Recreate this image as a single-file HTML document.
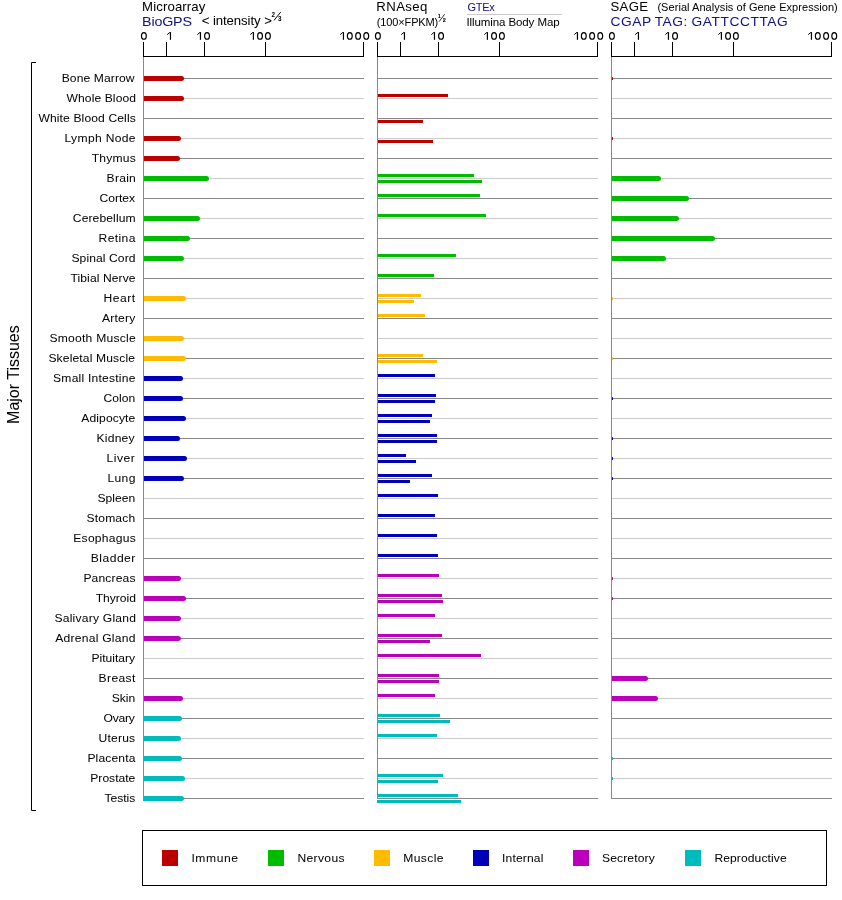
<!DOCTYPE html><html><head><meta charset="utf-8"><style>html,body{margin:0;padding:0;background:#fff;overflow:hidden;}svg{display:block;}#w{transform:translateZ(0);width:842px;height:900px;}text{font-family:"Liberation Sans", sans-serif;stroke:currentColor;stroke-width:0.02px;}</style></head><body>
<div id="w">
<svg width="842" height="900" viewBox="0 0 842 900">
<rect x="169.85" y="32.1" width="1.2" height="7.7" fill="#000"/>
<line x1="167.20" y1="34.6" x2="169.95" y2="32.4" stroke="#000" stroke-width="1"/>
<rect x="199.86" y="32.1" width="1.2" height="7.7" fill="#000"/>
<line x1="197.40" y1="34.6" x2="199.96" y2="32.4" stroke="#000" stroke-width="1"/>
<rect x="252.80" y="32.1" width="1.2" height="7.7" fill="#000"/>
<line x1="250.30" y1="34.6" x2="252.90" y2="32.4" stroke="#000" stroke-width="1"/>
<rect x="342.85" y="32.1" width="1.2" height="7.7" fill="#000"/>
<line x1="340.20" y1="34.6" x2="342.95" y2="32.4" stroke="#000" stroke-width="1"/>
<ellipse cx="143.90" cy="35.93" rx="2.43" ry="3.33" fill="none" stroke="#000" stroke-width="1.15"/>
<ellipse cx="207.05" cy="35.93" rx="2.43" ry="3.33" fill="none" stroke="#000" stroke-width="1.15"/>
<ellipse cx="260.05" cy="35.93" rx="2.43" ry="3.33" fill="none" stroke="#000" stroke-width="1.15"/>
<ellipse cx="267.90" cy="35.93" rx="2.43" ry="3.33" fill="none" stroke="#000" stroke-width="1.15"/>
<ellipse cx="349.80" cy="35.93" rx="2.43" ry="3.33" fill="none" stroke="#000" stroke-width="1.15"/>
<ellipse cx="358.10" cy="35.93" rx="2.43" ry="3.33" fill="none" stroke="#000" stroke-width="1.15"/>
<ellipse cx="366.25" cy="35.93" rx="2.43" ry="3.33" fill="none" stroke="#000" stroke-width="1.15"/>
<rect x="403.85" y="32.1" width="1.2" height="7.7" fill="#000"/>
<line x1="401.20" y1="34.6" x2="403.95" y2="32.4" stroke="#000" stroke-width="1"/>
<rect x="433.86" y="32.1" width="1.2" height="7.7" fill="#000"/>
<line x1="431.40" y1="34.6" x2="433.96" y2="32.4" stroke="#000" stroke-width="1"/>
<rect x="486.80" y="32.1" width="1.2" height="7.7" fill="#000"/>
<line x1="484.30" y1="34.6" x2="486.90" y2="32.4" stroke="#000" stroke-width="1"/>
<rect x="576.85" y="32.1" width="1.2" height="7.7" fill="#000"/>
<line x1="574.20" y1="34.6" x2="576.95" y2="32.4" stroke="#000" stroke-width="1"/>
<ellipse cx="377.90" cy="35.93" rx="2.43" ry="3.33" fill="none" stroke="#000" stroke-width="1.15"/>
<ellipse cx="441.05" cy="35.93" rx="2.43" ry="3.33" fill="none" stroke="#000" stroke-width="1.15"/>
<ellipse cx="494.05" cy="35.93" rx="2.43" ry="3.33" fill="none" stroke="#000" stroke-width="1.15"/>
<ellipse cx="501.90" cy="35.93" rx="2.43" ry="3.33" fill="none" stroke="#000" stroke-width="1.15"/>
<ellipse cx="583.80" cy="35.93" rx="2.43" ry="3.33" fill="none" stroke="#000" stroke-width="1.15"/>
<ellipse cx="592.10" cy="35.93" rx="2.43" ry="3.33" fill="none" stroke="#000" stroke-width="1.15"/>
<ellipse cx="600.25" cy="35.93" rx="2.43" ry="3.33" fill="none" stroke="#000" stroke-width="1.15"/>
<rect x="637.85" y="32.1" width="1.2" height="7.7" fill="#000"/>
<line x1="635.20" y1="34.6" x2="637.95" y2="32.4" stroke="#000" stroke-width="1"/>
<rect x="667.86" y="32.1" width="1.2" height="7.7" fill="#000"/>
<line x1="665.40" y1="34.6" x2="667.96" y2="32.4" stroke="#000" stroke-width="1"/>
<rect x="720.80" y="32.1" width="1.2" height="7.7" fill="#000"/>
<line x1="718.30" y1="34.6" x2="720.90" y2="32.4" stroke="#000" stroke-width="1"/>
<rect x="810.85" y="32.1" width="1.2" height="7.7" fill="#000"/>
<line x1="808.20" y1="34.6" x2="810.95" y2="32.4" stroke="#000" stroke-width="1"/>
<ellipse cx="611.90" cy="35.93" rx="2.43" ry="3.33" fill="none" stroke="#000" stroke-width="1.15"/>
<ellipse cx="675.05" cy="35.93" rx="2.43" ry="3.33" fill="none" stroke="#000" stroke-width="1.15"/>
<ellipse cx="728.05" cy="35.93" rx="2.43" ry="3.33" fill="none" stroke="#000" stroke-width="1.15"/>
<ellipse cx="735.90" cy="35.93" rx="2.43" ry="3.33" fill="none" stroke="#000" stroke-width="1.15"/>
<ellipse cx="817.80" cy="35.93" rx="2.43" ry="3.33" fill="none" stroke="#000" stroke-width="1.15"/>
<ellipse cx="826.10" cy="35.93" rx="2.43" ry="3.33" fill="none" stroke="#000" stroke-width="1.15"/>
<ellipse cx="834.25" cy="35.93" rx="2.43" ry="3.33" fill="none" stroke="#000" stroke-width="1.15"/>
<text transform="translate(142.10 10.8) scale(1.100 1)" font-size="12" fill="#000" style="color:#000" letter-spacing="0.101">Microarray</text>
<text transform="translate(142.10 25.8) scale(1.100 1)" font-size="13" fill="#111188" style="color:#111188" letter-spacing="-0.182">BioGPS</text>
<text transform="translate(201.70 24.9) scale(1.100 1)" font-size="12" fill="#000" style="color:#000" letter-spacing="-0.076">&lt; intensity &gt;</text>
<text transform="translate(376.30 10.7) scale(1.100 1)" font-size="12" fill="#000" style="color:#000" letter-spacing="0.364">RNAseq</text>
<text x="376.80" y="25.9" font-size="11" fill="#000" letter-spacing="-0.137">(100×FPKM)</text>
<text x="467.40" y="11" font-size="11" fill="#111188" letter-spacing="-0.242">GTEx</text>
<text transform="translate(466.40 25.65) scale(1.050 1)" font-size="11" fill="#000" style="color:#000" letter-spacing="-0.101">Illumina Body Map</text>
<text transform="translate(610.40 11) scale(1.100 1)" font-size="12" fill="#000" style="color:#000" letter-spacing="0.303">SAGE</text>
<text transform="translate(657.40 11) scale(1.100 1)" font-size="10" fill="#000" style="color:#000" letter-spacing="0.052">(Serial Analysis of Gene Expression)</text>
<text transform="translate(610.40 25.8) scale(1.100 1)" font-size="12.5" fill="#111188" style="color:#111188" letter-spacing="0.526" word-spacing="-0.8">CGAP TAG: GATTCCTTAG</text>
<text transform="translate(61.70 81.5) scale(1.100 1)" font-size="11" fill="#000" style="color:#000" letter-spacing="0.091">Bone Marrow</text>
<text transform="translate(66.50 101.5) scale(1.100 1)" font-size="11" fill="#000" style="color:#000" letter-spacing="0.091">Whole Blood</text>
<text transform="translate(38.40 121.5) scale(1.100 1)" font-size="11" fill="#000" style="color:#000" letter-spacing="0.114">White Blood Cells</text>
<text transform="translate(64.50 141.5) scale(1.100 1)" font-size="11" fill="#000" style="color:#000" letter-spacing="0.303">Lymph Node</text>
<text transform="translate(91.70 161.5) scale(1.100 1)" font-size="11" fill="#000" style="color:#000" letter-spacing="0.182">Thymus</text>
<text transform="translate(106.60 181.5) scale(1.100 1)" font-size="11" fill="#000" style="color:#000" letter-spacing="0.227">Brain</text>
<text transform="translate(99.50 201.5) scale(1.100 1)" font-size="11" fill="#000" style="color:#000" letter-spacing="0.000">Cortex</text>
<text transform="translate(72.80 221.5) scale(1.100 1)" font-size="11" fill="#000" style="color:#000" letter-spacing="0.101">Cerebellum</text>
<text transform="translate(98.50 241.5) scale(1.100 1)" font-size="11" fill="#000" style="color:#000" letter-spacing="0.364">Retina</text>
<text transform="translate(71.40 261.5) scale(1.100 1)" font-size="11" fill="#000" style="color:#000" letter-spacing="0.091">Spinal Cord</text>
<text transform="translate(70.50 281.5) scale(1.100 1)" font-size="11" fill="#000" style="color:#000" letter-spacing="0.083">Tibial Nerve</text>
<text transform="translate(103.50 301.5) scale(1.100 1)" font-size="11" fill="#000" style="color:#000" letter-spacing="0.455">Heart</text>
<text transform="translate(102.00 321.5) scale(1.100 1)" font-size="11" fill="#000" style="color:#000" letter-spacing="0.182">Artery</text>
<text transform="translate(49.40 341.5) scale(1.100 1)" font-size="11" fill="#000" style="color:#000" letter-spacing="0.227">Smooth Muscle</text>
<text transform="translate(48.40 361.5) scale(1.100 1)" font-size="11" fill="#000" style="color:#000" letter-spacing="0.130">Skeletal Muscle</text>
<text transform="translate(53.10 381.5) scale(1.100 1)" font-size="11" fill="#000" style="color:#000" letter-spacing="0.195">Small Intestine</text>
<text transform="translate(103.60 401.5) scale(1.100 1)" font-size="11" fill="#000" style="color:#000" letter-spacing="0.000">Colon</text>
<text transform="translate(81.20 421.5) scale(1.100 1)" font-size="11" fill="#000" style="color:#000" letter-spacing="0.114">Adipocyte</text>
<text transform="translate(96.60 441.5) scale(1.100 1)" font-size="11" fill="#000" style="color:#000" letter-spacing="0.182">Kidney</text>
<text transform="translate(106.60 461.5) scale(1.100 1)" font-size="11" fill="#000" style="color:#000" letter-spacing="0.455">Liver</text>
<text transform="translate(107.50 481.5) scale(1.100 1)" font-size="11" fill="#000" style="color:#000" letter-spacing="0.303">Lung</text>
<text transform="translate(97.50 501.5) scale(1.100 1)" font-size="11" fill="#000" style="color:#000" letter-spacing="0.000">Spleen</text>
<text transform="translate(86.50 521.5) scale(1.100 1)" font-size="11" fill="#000" style="color:#000" letter-spacing="0.152">Stomach</text>
<text transform="translate(73.30 541.5) scale(1.100 1)" font-size="11" fill="#000" style="color:#000" letter-spacing="0.227">Esophagus</text>
<text transform="translate(90.70 561.5) scale(1.100 1)" font-size="11" fill="#000" style="color:#000" letter-spacing="0.455">Bladder</text>
<text transform="translate(83.40 581.5) scale(1.100 1)" font-size="11" fill="#000" style="color:#000" letter-spacing="0.130">Pancreas</text>
<text transform="translate(95.70 601.5) scale(1.100 1)" font-size="11" fill="#000" style="color:#000" letter-spacing="-0.000">Thyroid</text>
<text transform="translate(54.40 621.5) scale(1.100 1)" font-size="11" fill="#000" style="color:#000" letter-spacing="0.210">Salivary Gland</text>
<text transform="translate(55.20 641.5) scale(1.100 1)" font-size="11" fill="#000" style="color:#000" letter-spacing="0.227">Adrenal Gland</text>
<text transform="translate(91.50 661.5) scale(1.100 1)" font-size="11" fill="#000" style="color:#000" letter-spacing="0.000">Pituitary</text>
<text transform="translate(98.50 681.5) scale(1.100 1)" font-size="11" fill="#000" style="color:#000" letter-spacing="0.364">Breast</text>
<text transform="translate(111.70 701.5) scale(1.100 1)" font-size="11" fill="#000" style="color:#000" letter-spacing="-0.000">Skin</text>
<text transform="translate(103.60 721.5) scale(1.100 1)" font-size="11" fill="#000" style="color:#000" letter-spacing="-0.227">Ovary</text>
<text transform="translate(98.50 741.5) scale(1.100 1)" font-size="11" fill="#000" style="color:#000" letter-spacing="0.182">Uterus</text>
<text transform="translate(87.40 761.5) scale(1.100 1)" font-size="11" fill="#000" style="color:#000" letter-spacing="0.130">Placenta</text>
<text transform="translate(90.30 781.5) scale(1.100 1)" font-size="11" fill="#000" style="color:#000" letter-spacing="0.000">Prostate</text>
<text transform="translate(104.40 801.5) scale(1.100 1)" font-size="11" fill="#000" style="color:#000" letter-spacing="-0.000">Testis</text>
<text transform="translate(191.40 862) scale(1.100 1)" font-size="11" fill="#000" style="color:#000" letter-spacing="0.545">Immune</text>
<text transform="translate(297.50 862) scale(1.100 1)" font-size="11" fill="#000" style="color:#000" letter-spacing="0.303">Nervous</text>
<text transform="translate(403.20 862) scale(1.100 1)" font-size="11" fill="#000" style="color:#000" letter-spacing="0.364">Muscle</text>
<text transform="translate(502.10 862) scale(1.100 1)" font-size="11" fill="#000" style="color:#000" letter-spacing="0.130">Internal</text>
<text transform="translate(602.00 862) scale(1.100 1)" font-size="11" fill="#000" style="color:#000" letter-spacing="0.114">Secretory</text>
<text transform="translate(714.40 862) scale(1.100 1)" font-size="11" fill="#000" style="color:#000" letter-spacing="0.083">Reproductive</text>
<text x="271.6" y="17.0" font-size="6.3" fill="#000" font-weight="bold">2</text>
<line x1="274" y1="20.4" x2="280.7" y2="12.1" stroke="#000" stroke-width="1.0"/>
<text x="278.0" y="21.0" font-size="6.3" fill="#000" font-weight="bold">3</text>
<text x="437.8" y="17.8" font-size="5.5" fill="#000" font-weight="bold">1</text>
<line x1="439.1" y1="21.6" x2="444.7" y2="14.2" stroke="#000" stroke-width="0.8"/>
<text x="442.8" y="21.9" font-size="5.5" fill="#000" font-weight="bold">2</text>
<rect x="467" y="14" width="95" height="1" fill="#cccccc"/>
<rect x="143" y="56" width="221" height="1" fill="#000"/>
<rect x="143" y="42" width="1" height="14" fill="#000"/>
<rect x="166" y="42" width="1" height="14" fill="#000"/>
<rect x="204" y="42" width="1" height="14" fill="#000"/>
<rect x="265" y="42" width="1" height="14" fill="#000"/>
<rect x="363" y="42" width="1" height="14" fill="#000"/>
<rect x="377" y="56" width="221" height="1" fill="#000"/>
<rect x="377" y="42" width="1" height="14" fill="#000"/>
<rect x="400" y="42" width="1" height="14" fill="#000"/>
<rect x="438" y="42" width="1" height="14" fill="#000"/>
<rect x="499" y="42" width="1" height="14" fill="#000"/>
<rect x="597" y="42" width="1" height="14" fill="#000"/>
<rect x="611" y="56" width="221" height="1" fill="#000"/>
<rect x="611" y="42" width="1" height="14" fill="#000"/>
<rect x="634" y="42" width="1" height="14" fill="#000"/>
<rect x="672" y="42" width="1" height="14" fill="#000"/>
<rect x="733" y="42" width="1" height="14" fill="#000"/>
<rect x="831" y="42" width="1" height="14" fill="#000"/>
<rect x="143" y="78" width="221" height="1" fill="#888888"/>
<rect x="377" y="78" width="221" height="1" fill="#888888"/>
<rect x="611" y="78" width="221" height="1" fill="#888888"/>
<path d="M143 76 H181.5 A2.5 2.5 0 0 1 181.5 81 H143 Z" fill="#bb0000"/>
<rect x="611.9" y="76.9" width="1.1" height="3.2" rx="0.5" fill="#bb0000"/>
<rect x="143" y="98" width="221" height="1" fill="#cccccc"/>
<rect x="377" y="98" width="221" height="1" fill="#cccccc"/>
<rect x="611" y="98" width="221" height="1" fill="#cccccc"/>
<path d="M143 96 H181.5 A2.5 2.5 0 0 1 181.5 101 H143 Z" fill="#bb0000"/>
<rect x="377" y="94" width="71" height="3" fill="#bb0000"/>
<rect x="143" y="118" width="221" height="1" fill="#888888"/>
<rect x="377" y="118" width="221" height="1" fill="#888888"/>
<rect x="611" y="118" width="221" height="1" fill="#888888"/>
<rect x="377" y="120" width="46" height="3" fill="#bb0000"/>
<rect x="143" y="138" width="221" height="1" fill="#cccccc"/>
<rect x="377" y="138" width="221" height="1" fill="#cccccc"/>
<rect x="611" y="138" width="221" height="1" fill="#cccccc"/>
<path d="M143 136 H178.5 A2.5 2.5 0 0 1 178.5 141 H143 Z" fill="#bb0000"/>
<rect x="377" y="140" width="56" height="3" fill="#bb0000"/>
<rect x="611.9" y="136.9" width="1.1" height="3.2" rx="0.5" fill="#bb0000"/>
<rect x="143" y="158" width="221" height="1" fill="#888888"/>
<rect x="377" y="158" width="221" height="1" fill="#888888"/>
<rect x="611" y="158" width="221" height="1" fill="#888888"/>
<path d="M143 156 H177.5 A2.5 2.5 0 0 1 177.5 161 H143 Z" fill="#bb0000"/>
<rect x="143" y="178" width="221" height="1" fill="#cccccc"/>
<rect x="377" y="178" width="221" height="1" fill="#cccccc"/>
<rect x="611" y="178" width="221" height="1" fill="#cccccc"/>
<path d="M143 176 H206.5 A2.5 2.5 0 0 1 206.5 181 H143 Z" fill="#00bb00"/>
<rect x="377" y="174" width="97" height="3" fill="#00bb00"/>
<rect x="377" y="180" width="105" height="3" fill="#00bb00"/>
<path d="M611 176 H658.5 A2.5 2.5 0 0 1 658.5 181 H611 Z" fill="#00bb00"/>
<rect x="143" y="198" width="221" height="1" fill="#888888"/>
<rect x="377" y="198" width="221" height="1" fill="#888888"/>
<rect x="611" y="198" width="221" height="1" fill="#888888"/>
<rect x="377" y="194" width="103" height="3" fill="#00bb00"/>
<path d="M611 196 H686.5 A2.5 2.5 0 0 1 686.5 201 H611 Z" fill="#00bb00"/>
<rect x="143" y="218" width="221" height="1" fill="#cccccc"/>
<rect x="377" y="218" width="221" height="1" fill="#cccccc"/>
<rect x="611" y="218" width="221" height="1" fill="#cccccc"/>
<path d="M143 216 H197.5 A2.5 2.5 0 0 1 197.5 221 H143 Z" fill="#00bb00"/>
<rect x="377" y="214" width="109" height="3" fill="#00bb00"/>
<path d="M611 216 H676.5 A2.5 2.5 0 0 1 676.5 221 H611 Z" fill="#00bb00"/>
<rect x="143" y="238" width="221" height="1" fill="#888888"/>
<rect x="377" y="238" width="221" height="1" fill="#888888"/>
<rect x="611" y="238" width="221" height="1" fill="#888888"/>
<path d="M143 236 H187.5 A2.5 2.5 0 0 1 187.5 241 H143 Z" fill="#00bb00"/>
<path d="M611 236 H712.5 A2.5 2.5 0 0 1 712.5 241 H611 Z" fill="#00bb00"/>
<rect x="143" y="258" width="221" height="1" fill="#cccccc"/>
<rect x="377" y="258" width="221" height="1" fill="#cccccc"/>
<rect x="611" y="258" width="221" height="1" fill="#cccccc"/>
<path d="M143 256 H181.5 A2.5 2.5 0 0 1 181.5 261 H143 Z" fill="#00bb00"/>
<rect x="377" y="254" width="79" height="3" fill="#00bb00"/>
<path d="M611 256 H663.5 A2.5 2.5 0 0 1 663.5 261 H611 Z" fill="#00bb00"/>
<rect x="143" y="278" width="221" height="1" fill="#888888"/>
<rect x="377" y="278" width="221" height="1" fill="#888888"/>
<rect x="611" y="278" width="221" height="1" fill="#888888"/>
<rect x="377" y="274" width="57" height="3" fill="#00bb00"/>
<rect x="143" y="298" width="221" height="1" fill="#cccccc"/>
<rect x="377" y="298" width="221" height="1" fill="#cccccc"/>
<rect x="611" y="298" width="221" height="1" fill="#cccccc"/>
<path d="M143 296 H183.5 A2.5 2.5 0 0 1 183.5 301 H143 Z" fill="#ffbb00"/>
<rect x="377" y="294" width="44" height="3" fill="#ffbb00"/>
<rect x="377" y="300" width="37" height="3" fill="#ffbb00"/>
<rect x="611.9" y="296.9" width="1.1" height="3.2" rx="0.5" fill="#ffbb00"/>
<rect x="143" y="318" width="221" height="1" fill="#888888"/>
<rect x="377" y="318" width="221" height="1" fill="#888888"/>
<rect x="611" y="318" width="221" height="1" fill="#888888"/>
<rect x="377" y="314" width="48" height="3" fill="#ffbb00"/>
<rect x="143" y="338" width="221" height="1" fill="#cccccc"/>
<rect x="377" y="338" width="221" height="1" fill="#cccccc"/>
<rect x="611" y="338" width="221" height="1" fill="#cccccc"/>
<path d="M143 336 H181.5 A2.5 2.5 0 0 1 181.5 341 H143 Z" fill="#ffbb00"/>
<rect x="143" y="358" width="221" height="1" fill="#888888"/>
<rect x="377" y="358" width="221" height="1" fill="#888888"/>
<rect x="611" y="358" width="221" height="1" fill="#888888"/>
<path d="M143 356 H183.5 A2.5 2.5 0 0 1 183.5 361 H143 Z" fill="#ffbb00"/>
<rect x="377" y="354" width="46" height="3" fill="#ffbb00"/>
<rect x="377" y="360" width="60" height="3" fill="#ffbb00"/>
<rect x="611.9" y="356.9" width="1.1" height="3.2" rx="0.5" fill="#ffbb00"/>
<rect x="143" y="378" width="221" height="1" fill="#cccccc"/>
<rect x="377" y="378" width="221" height="1" fill="#cccccc"/>
<rect x="611" y="378" width="221" height="1" fill="#cccccc"/>
<path d="M143 376 H180.5 A2.5 2.5 0 0 1 180.5 381 H143 Z" fill="#0000bb"/>
<rect x="377" y="374" width="58" height="3" fill="#0000bb"/>
<rect x="143" y="398" width="221" height="1" fill="#888888"/>
<rect x="377" y="398" width="221" height="1" fill="#888888"/>
<rect x="611" y="398" width="221" height="1" fill="#888888"/>
<path d="M143 396 H180.5 A2.5 2.5 0 0 1 180.5 401 H143 Z" fill="#0000bb"/>
<rect x="377" y="394" width="59" height="3" fill="#0000bb"/>
<rect x="377" y="400" width="58" height="3" fill="#0000bb"/>
<rect x="611.9" y="396.9" width="1.1" height="3.2" rx="0.5" fill="#0000bb"/>
<rect x="143" y="418" width="221" height="1" fill="#cccccc"/>
<rect x="377" y="418" width="221" height="1" fill="#cccccc"/>
<rect x="611" y="418" width="221" height="1" fill="#cccccc"/>
<path d="M143 416 H183.5 A2.5 2.5 0 0 1 183.5 421 H143 Z" fill="#0000bb"/>
<rect x="377" y="414" width="55" height="3" fill="#0000bb"/>
<rect x="377" y="420" width="53" height="3" fill="#0000bb"/>
<rect x="143" y="438" width="221" height="1" fill="#888888"/>
<rect x="377" y="438" width="221" height="1" fill="#888888"/>
<rect x="611" y="438" width="221" height="1" fill="#888888"/>
<path d="M143 436 H177.5 A2.5 2.5 0 0 1 177.5 441 H143 Z" fill="#0000bb"/>
<rect x="377" y="434" width="60" height="3" fill="#0000bb"/>
<rect x="377" y="440" width="60" height="3" fill="#0000bb"/>
<rect x="611.9" y="436.9" width="1.1" height="3.2" rx="0.5" fill="#0000bb"/>
<rect x="143" y="458" width="221" height="1" fill="#cccccc"/>
<rect x="377" y="458" width="221" height="1" fill="#cccccc"/>
<rect x="611" y="458" width="221" height="1" fill="#cccccc"/>
<path d="M143 456 H184.5 A2.5 2.5 0 0 1 184.5 461 H143 Z" fill="#0000bb"/>
<rect x="377" y="454" width="29" height="3" fill="#0000bb"/>
<rect x="377" y="460" width="39" height="3" fill="#0000bb"/>
<rect x="611.9" y="456.9" width="1.1" height="3.2" rx="0.5" fill="#0000bb"/>
<rect x="143" y="478" width="221" height="1" fill="#888888"/>
<rect x="377" y="478" width="221" height="1" fill="#888888"/>
<rect x="611" y="478" width="221" height="1" fill="#888888"/>
<path d="M143 476 H181.5 A2.5 2.5 0 0 1 181.5 481 H143 Z" fill="#0000bb"/>
<rect x="377" y="474" width="55" height="3" fill="#0000bb"/>
<rect x="377" y="480" width="33" height="3" fill="#0000bb"/>
<rect x="611.9" y="476.9" width="1.1" height="3.2" rx="0.5" fill="#0000bb"/>
<rect x="143" y="498" width="221" height="1" fill="#cccccc"/>
<rect x="377" y="498" width="221" height="1" fill="#cccccc"/>
<rect x="611" y="498" width="221" height="1" fill="#cccccc"/>
<rect x="377" y="494" width="61" height="3" fill="#0000bb"/>
<rect x="143" y="518" width="221" height="1" fill="#888888"/>
<rect x="377" y="518" width="221" height="1" fill="#888888"/>
<rect x="611" y="518" width="221" height="1" fill="#888888"/>
<rect x="377" y="514" width="58" height="3" fill="#0000bb"/>
<rect x="143" y="538" width="221" height="1" fill="#cccccc"/>
<rect x="377" y="538" width="221" height="1" fill="#cccccc"/>
<rect x="611" y="538" width="221" height="1" fill="#cccccc"/>
<rect x="377" y="534" width="60" height="3" fill="#0000bb"/>
<rect x="143" y="558" width="221" height="1" fill="#888888"/>
<rect x="377" y="558" width="221" height="1" fill="#888888"/>
<rect x="611" y="558" width="221" height="1" fill="#888888"/>
<rect x="377" y="554" width="61" height="3" fill="#0000bb"/>
<rect x="143" y="578" width="221" height="1" fill="#cccccc"/>
<rect x="377" y="578" width="221" height="1" fill="#cccccc"/>
<rect x="611" y="578" width="221" height="1" fill="#cccccc"/>
<path d="M143 576 H178.5 A2.5 2.5 0 0 1 178.5 581 H143 Z" fill="#bb00bb"/>
<rect x="377" y="574" width="62" height="3" fill="#bb00bb"/>
<rect x="611.9" y="576.9" width="1.1" height="3.2" rx="0.5" fill="#bb00bb"/>
<rect x="143" y="598" width="221" height="1" fill="#888888"/>
<rect x="377" y="598" width="221" height="1" fill="#888888"/>
<rect x="611" y="598" width="221" height="1" fill="#888888"/>
<path d="M143 596 H183.5 A2.5 2.5 0 0 1 183.5 601 H143 Z" fill="#bb00bb"/>
<rect x="377" y="594" width="65" height="3" fill="#bb00bb"/>
<rect x="377" y="600" width="66" height="3" fill="#bb00bb"/>
<rect x="611.9" y="596.9" width="1.1" height="3.2" rx="0.5" fill="#bb00bb"/>
<rect x="143" y="618" width="221" height="1" fill="#cccccc"/>
<rect x="377" y="618" width="221" height="1" fill="#cccccc"/>
<rect x="611" y="618" width="221" height="1" fill="#cccccc"/>
<path d="M143 616 H178.5 A2.5 2.5 0 0 1 178.5 621 H143 Z" fill="#bb00bb"/>
<rect x="377" y="614" width="58" height="3" fill="#bb00bb"/>
<rect x="143" y="638" width="221" height="1" fill="#888888"/>
<rect x="377" y="638" width="221" height="1" fill="#888888"/>
<rect x="611" y="638" width="221" height="1" fill="#888888"/>
<path d="M143 636 H178.5 A2.5 2.5 0 0 1 178.5 641 H143 Z" fill="#bb00bb"/>
<rect x="377" y="634" width="65" height="3" fill="#bb00bb"/>
<rect x="377" y="640" width="53" height="3" fill="#bb00bb"/>
<rect x="143" y="658" width="221" height="1" fill="#cccccc"/>
<rect x="377" y="658" width="221" height="1" fill="#cccccc"/>
<rect x="611" y="658" width="221" height="1" fill="#cccccc"/>
<rect x="377" y="654" width="104" height="3" fill="#bb00bb"/>
<rect x="143" y="678" width="221" height="1" fill="#888888"/>
<rect x="377" y="678" width="221" height="1" fill="#888888"/>
<rect x="611" y="678" width="221" height="1" fill="#888888"/>
<rect x="377" y="674" width="62" height="3" fill="#bb00bb"/>
<rect x="377" y="680" width="62" height="3" fill="#bb00bb"/>
<path d="M611 676 H645.5 A2.5 2.5 0 0 1 645.5 681 H611 Z" fill="#bb00bb"/>
<rect x="143" y="698" width="221" height="1" fill="#cccccc"/>
<rect x="377" y="698" width="221" height="1" fill="#cccccc"/>
<rect x="611" y="698" width="221" height="1" fill="#cccccc"/>
<path d="M143 696 H180.5 A2.5 2.5 0 0 1 180.5 701 H143 Z" fill="#bb00bb"/>
<rect x="377" y="694" width="58" height="3" fill="#bb00bb"/>
<path d="M611 696 H655.5 A2.5 2.5 0 0 1 655.5 701 H611 Z" fill="#bb00bb"/>
<rect x="143" y="718" width="221" height="1" fill="#888888"/>
<rect x="377" y="718" width="221" height="1" fill="#888888"/>
<rect x="611" y="718" width="221" height="1" fill="#888888"/>
<path d="M143 716 H179.5 A2.5 2.5 0 0 1 179.5 721 H143 Z" fill="#00bbbb"/>
<rect x="377" y="714" width="63" height="3" fill="#00bbbb"/>
<rect x="377" y="720" width="73" height="3" fill="#00bbbb"/>
<rect x="143" y="738" width="221" height="1" fill="#cccccc"/>
<rect x="377" y="738" width="221" height="1" fill="#cccccc"/>
<rect x="611" y="738" width="221" height="1" fill="#cccccc"/>
<path d="M143 736 H178.5 A2.5 2.5 0 0 1 178.5 741 H143 Z" fill="#00bbbb"/>
<rect x="377" y="734" width="60" height="3" fill="#00bbbb"/>
<rect x="143" y="758" width="221" height="1" fill="#888888"/>
<rect x="377" y="758" width="221" height="1" fill="#888888"/>
<rect x="611" y="758" width="221" height="1" fill="#888888"/>
<path d="M143 756 H179.5 A2.5 2.5 0 0 1 179.5 761 H143 Z" fill="#00bbbb"/>
<rect x="611.9" y="756.9" width="1.1" height="3.2" rx="0.5" fill="#00bbbb"/>
<rect x="143" y="778" width="221" height="1" fill="#cccccc"/>
<rect x="377" y="778" width="221" height="1" fill="#cccccc"/>
<rect x="611" y="778" width="221" height="1" fill="#cccccc"/>
<path d="M143 776 H182.5 A2.5 2.5 0 0 1 182.5 781 H143 Z" fill="#00bbbb"/>
<rect x="377" y="774" width="66" height="3" fill="#00bbbb"/>
<rect x="377" y="780" width="61" height="3" fill="#00bbbb"/>
<rect x="611.9" y="776.9" width="1.1" height="3.2" rx="0.5" fill="#00bbbb"/>
<rect x="143" y="798" width="221" height="1" fill="#888888"/>
<rect x="377" y="798" width="221" height="1" fill="#888888"/>
<rect x="611" y="798" width="221" height="1" fill="#888888"/>
<path d="M143 796 H181.5 A2.5 2.5 0 0 1 181.5 801 H143 Z" fill="#00bbbb"/>
<rect x="377" y="794" width="81" height="3" fill="#00bbbb"/>
<rect x="377" y="800" width="84" height="3" fill="#00bbbb"/>
<rect x="143" y="57" width="1" height="742" fill="#888888"/>
<rect x="377" y="57" width="1" height="742" fill="#888888"/>
<rect x="611" y="57" width="1" height="742" fill="#888888"/>
<path d="M36 62.5 H31.5 V810.5 H36" fill="none" stroke="#000" stroke-width="1"/>
<text x="0" y="0" font-size="16" fill="#000" text-anchor="middle" transform="translate(18.8 374.6) rotate(-90)">Major Tissues</text>
<rect x="142.5" y="830.5" width="684" height="55" fill="none" stroke="#000" stroke-width="1"/>
<rect x="162" y="850" width="16" height="16" fill="#bb0000"/>
<rect x="268" y="850" width="16" height="16" fill="#00bb00"/>
<rect x="374" y="850" width="16" height="16" fill="#ffbb00"/>
<rect x="473" y="850" width="16" height="16" fill="#0000bb"/>
<rect x="573" y="850" width="16" height="16" fill="#bb00bb"/>
<rect x="685" y="850" width="16" height="16" fill="#00bbbb"/>
</svg></div></body></html>
